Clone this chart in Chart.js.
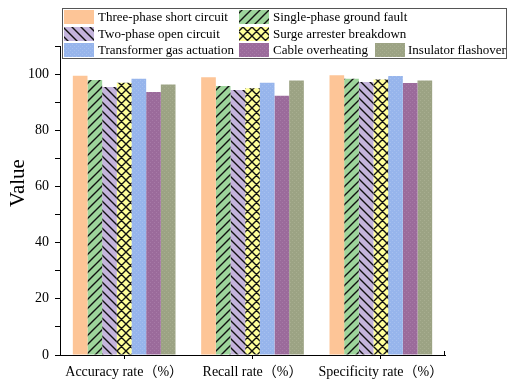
<!DOCTYPE html>
<html>
<head>
<meta charset="utf-8">
<script src="https://cdn.jsdelivr.net/npm/chart.js@4.4.0/dist/chart.umd.min.js"></script>
<style>
  html, body { margin: 0; padding: 0; background: #ffffff; }
  #wrap { width: 508px; height: 381px; position: relative; }
</style>
</head>
<body>
<div id="wrap"><canvas id="chart" width="508" height="381"></canvas></div>
<script>
// Fault types evaluated on three metrics
const categories = ['Accuracy rate（%）', 'Recall rate（%）', 'Specificity rate（%）'];
const seriesNames = [
  'Three-phase short circuit', 'Single-phase ground fault',
  'Two-phase open circuit', 'Surge arrester breakdown',
  'Transformer gas actuation', 'Cable overheating', 'Insulator flashover'
];
const threePhase  = [99.4, 98.9, 99.6];
const singlePhase = [97.9, 95.8, 98.3];
const twoPhase    = [95.4, 94.3, 97.2];
const surge       = [96.9, 95.0, 98.1];
const transformer = [98.3, 96.9, 99.3];
const cable       = [93.6, 92.3, 96.8];
const insulator   = [96.3, 97.7, 97.7];
const yTickLabels = [0, 20, 40, 60, 80, 100];

const SERIF = '"Liberation Serif", "Times New Roman", "Noto Sans CJK SC", serif';

// Fill patterns
function makeTile(size, draw) {
  const c = document.createElement('canvas');
  c.width = size; c.height = size;
  const g = c.getContext('2d');
  draw(g, size);
  return document.createElement('canvas').getContext('2d').createPattern(c, 'repeat');
}
function solid(color) {
  return makeTile(4, (g, s) => { g.fillStyle = color; g.fillRect(0, 0, s, s); });
}
function dotted(color, dot) {
  return makeTile(4, (g, s) => {
    g.fillStyle = color; g.fillRect(0, 0, s, s);
    g.fillStyle = dot;
    g.fillRect(0, 0, 1, 1); g.fillRect(2, 2, 1, 1);
  });
}
function hatch(color, dir) {
  return makeTile(9, (g, s) => {
    g.fillStyle = color; g.fillRect(0, 0, s, s);
    g.strokeStyle = '#111'; g.lineWidth = 1.4;
    g.beginPath();
    if (dir === '/' || dir === 'x') {
      g.moveTo(-1, s + 1); g.lineTo(s + 1, -1);
      g.moveTo(-1, 1); g.lineTo(1, -1);
      g.moveTo(s - 1, s + 1); g.lineTo(s + 1, s - 1);
    }
    if (dir === '\\' || dir === 'x') {
      g.moveTo(-1, -1); g.lineTo(s + 1, s + 1);
      g.moveTo(s - 1, -1); g.lineTo(s + 1, 1);
      g.moveTo(-1, s - 1); g.lineTo(1, s + 1);
    }
    g.stroke();
  });
}

const fills = [
  solid('#fdc597'),
  hatch('#9dd49b', '/'),
  hatch('#c4b4dc', '\\'),
  hatch('#ffff99', 'x'),
  dotted('#97b5ec', '#a6c0ef'),
  dotted('#9b6b9b', '#a77aa7'),
  dotted('#9ca384', '#a8ae90')
];
const values = [threePhase, singlePhase, twoPhase, surge, transformer, cable, insulator];

// Legend box with three rows, axis title and the closing tick
const legendPlugin = {
  id: 'boxLegend',
  afterDraw(chart) {
    const ctx = chart.ctx;
    ctx.save();
    ctx.fillStyle = '#ffffff';
    ctx.fillRect(62.5, 8.5, 444, 50);
    ctx.strokeStyle = '#555555';
    ctx.lineWidth = 1;
    ctx.strokeRect(62.5, 8.5, 444, 50);
    const rows = [17, 34, 50];
    const swatchX = [64, 239, 375];
    const textX = [98, 273, 408];
    const layout = [[0, 0, 0], [1, 0, 1], [2, 1, 0], [3, 1, 1], [4, 2, 0], [5, 2, 1], [6, 2, 2]];
    ctx.font = '13px ' + SERIF;
    ctx.textBaseline = 'middle';
    ctx.textAlign = 'left';
    layout.forEach(([i, r, c]) => {
      ctx.fillStyle = fills[i];
      ctx.fillRect(swatchX[c], rows[r] - 7, 30, 14);
      ctx.fillStyle = '#000000';
      ctx.fillText(seriesNames[i], textX[c], rows[r] + 0.5);
    });

    ctx.save();
    ctx.translate(18, 183);
    ctx.rotate(-Math.PI / 2);
    ctx.font = '21px ' + SERIF;
    ctx.textAlign = 'center';
    ctx.textBaseline = 'middle';
    ctx.fillText('Value', 0, 0);
    ctx.restore();

    const a = chart.chartArea;
    ctx.strokeStyle = '#000';
    ctx.beginPath();
    ctx.moveTo(Math.round(a.right) - 0.5, a.bottom);
    ctx.lineTo(Math.round(a.right) - 0.5, a.bottom - 4);
    ctx.stroke();
    ctx.restore();
  }
};

new Chart(document.getElementById('chart'), {
  type: 'bar',
  data: {
    labels: categories,
    datasets: seriesNames.map((name, i) => ({
      label: name,
      data: values[i],
      backgroundColor: fills[i],
      borderWidth: 0,
      categoryPercentage: 0.8,
      barPercentage: 1.0
    }))
  },
  options: {
    responsive: false,
    animation: false,
    devicePixelRatio: 1,
    layout: { padding: { top: 46, right: 63, left: 0, bottom: 0 } },
    plugins: { legend: { display: false }, tooltip: { enabled: false } },
    scales: {
      x: {
        afterFit(scale) { scale.height = 26; },
        grid: { display: true, drawOnChartArea: false, offset: false, tickLength: 4, color: '#000' },
        border: { display: true, color: '#000', width: 1 },
        ticks: { color: '#000', font: { family: SERIF, size: 14 }, padding: 5, maxRotation: 0, autoSkip: false }
      },
      y: {
        min: 0,
        max: 110,
        afterFit(scale) { scale.width = 60; },
        grid: {
          display: true, drawOnChartArea: false, tickLength: 5, color: '#000'
        },
        border: { display: true, color: '#000', width: 1 },
        ticks: {
          stepSize: 10,
          color: '#000',
          padding: 6,
          font: { family: SERIF, size: 14 },
          callback: (v) => yTickLabels.includes(v) ? String(v) : ''
        }
      }
    }
  },
  plugins: [legendPlugin]
});
</script>
</body>
</html>
